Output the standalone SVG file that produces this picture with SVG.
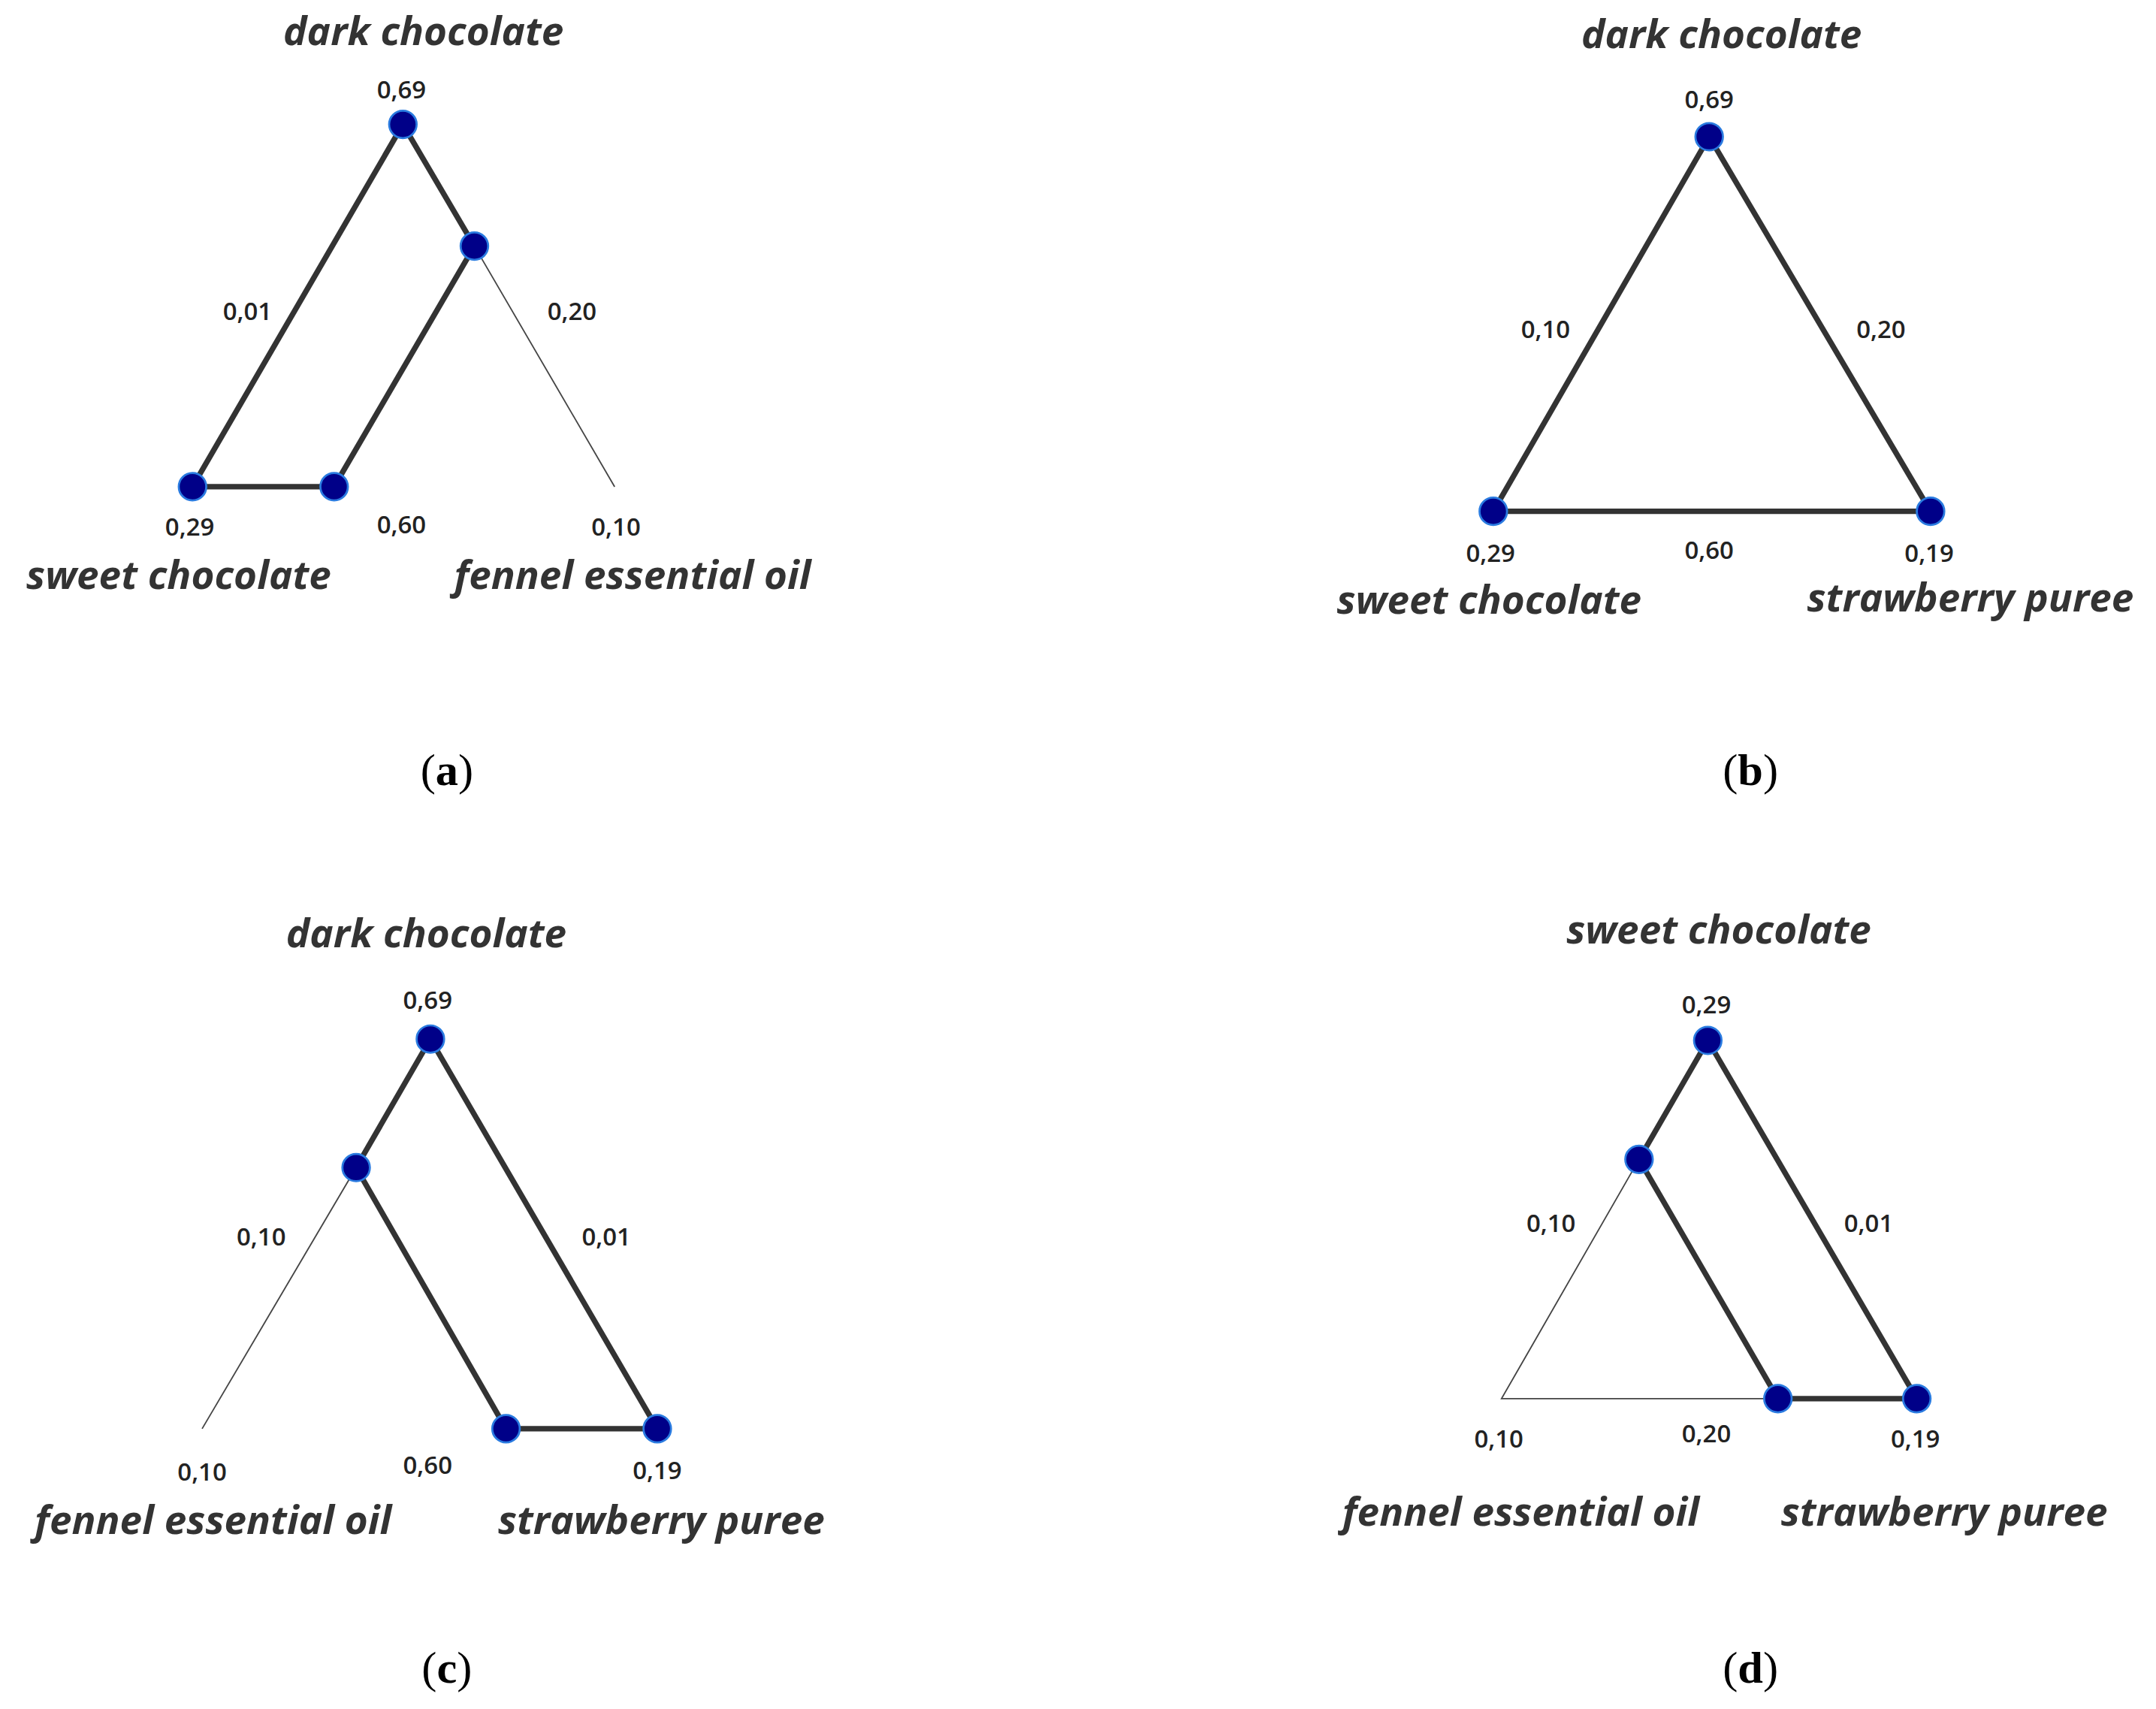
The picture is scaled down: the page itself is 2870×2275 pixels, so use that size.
<svg xmlns="http://www.w3.org/2000/svg" width="2870" height="2275" viewBox="0 0 2870 2275">
<style>
.t{font-family:"Open Sans","DejaVu Sans",sans-serif;font-style:italic;font-weight:700;font-size:29px;fill:#333;text-anchor:middle}
.n{font-family:"Open Sans","DejaVu Sans",sans-serif;font-weight:600;font-size:18px;fill:#222;text-anchor:middle}
.p{font-family:"Liberation Serif",serif;font-size:33px;fill:#000;text-anchor:middle}
.p tspan{font-weight:700}
.k{stroke:#333;stroke-width:4;fill:none;stroke-linejoin:round}
.h{stroke:#444;stroke-width:1;fill:none}
.d{fill:#000088;stroke:#2a7be0;stroke-width:1.5}
</style>
<rect width="2870" height="2275" fill="#fff"/>
<g transform="scale(1.8304,1.82)">
<g id="connectors">
<path class="h" d="M345,180L447,356"/>
<path class="k" d="M140,356L293,91L345,180L243,356Z"/>
<path class="k" d="M1243,100L1404,374L1086,374Z"/>
<path class="h" d="M259,854L147,1045"/>
<path class="k" d="M259,854L313,760L478,1045L368,1045Z"/>
<path class="h" d="M1192,848L1092,1023L1293,1023"/>
<path class="k" d="M1192,848L1242,761L1394,1023L1293,1023Z"/>
</g>
<g id="nodes">
<circle class="d" cx="293" cy="91" r="10"/><circle class="d" cx="345" cy="180" r="10"/><circle class="d" cx="140" cy="356" r="10"/><circle class="d" cx="243" cy="356" r="10"/>
<circle class="d" cx="1243" cy="100" r="10"/><circle class="d" cx="1086" cy="374" r="10"/><circle class="d" cx="1404" cy="374" r="10"/>
<circle class="d" cx="313" cy="760" r="10"/><circle class="d" cx="259" cy="854" r="10"/><circle class="d" cx="368" cy="1045" r="10"/><circle class="d" cx="478" cy="1045" r="10"/>
<circle class="d" cx="1242" cy="761" r="10"/><circle class="d" cx="1192" cy="848" r="10"/><circle class="d" cx="1293" cy="1023" r="10"/><circle class="d" cx="1394" cy="1023" r="10"/>
</g>
<g id="labels-a">
<text class="t" x="308" y="33">dark chocolate</text>
<text class="n" x="292" y="72">0,69</text><text class="n" x="180" y="234">0,01</text><text class="n" x="416" y="234">0,20</text>
<text class="n" x="138" y="392">0,29</text><text class="n" x="292" y="390">0,60</text><text class="n" x="448" y="392">0,10</text>
<text class="t" x="130" y="431">sweet chocolate</text><text class="t" x="460" y="431">fennel essential oil</text>
<text class="p" x="325" y="574">(<tspan>a</tspan>)</text>
</g>
<g id="labels-b">
<text class="t" x="1252" y="35">dark chocolate</text>
<text class="n" x="1243" y="79">0,69</text><text class="n" x="1124" y="247">0,10</text><text class="n" x="1368" y="247">0,20</text>
<text class="n" x="1084" y="411">0,29</text><text class="n" x="1243" y="409">0,60</text><text class="n" x="1403" y="411">0,19</text>
<text class="t" x="1083" y="449">sweet chocolate</text><text class="t" x="1433" y="447">strawberry puree</text>
<text class="p" x="1273" y="574">(<tspan>b</tspan>)</text>
</g>
<g id="labels-c">
<text class="t" x="310" y="693">dark chocolate</text>
<text class="n" x="311" y="738">0,69</text><text class="n" x="190" y="911">0,10</text><text class="n" x="441" y="911">0,01</text>
<text class="n" x="147" y="1083">0,10</text><text class="n" x="311" y="1078">0,60</text><text class="n" x="478" y="1082">0,19</text>
<text class="t" x="155" y="1122">fennel essential oil</text><text class="t" x="481" y="1122">strawberry puree</text>
<text class="p" x="325" y="1231">(<tspan>c</tspan>)</text>
</g>
<g id="labels-d">
<text class="t" x="1250" y="690">sweet chocolate</text>
<text class="n" x="1241" y="741">0,29</text><text class="n" x="1128" y="901">0,10</text><text class="n" x="1359" y="901">0,01</text>
<text class="n" x="1090" y="1059">0,10</text><text class="n" x="1241" y="1055">0,20</text><text class="n" x="1393" y="1059">0,19</text>
<text class="t" x="1106" y="1116">fennel essential oil</text><text class="t" x="1414" y="1116">strawberry puree</text>
<text class="p" x="1273" y="1231">(<tspan>d</tspan>)</text>
</g>
</g>
</svg>
